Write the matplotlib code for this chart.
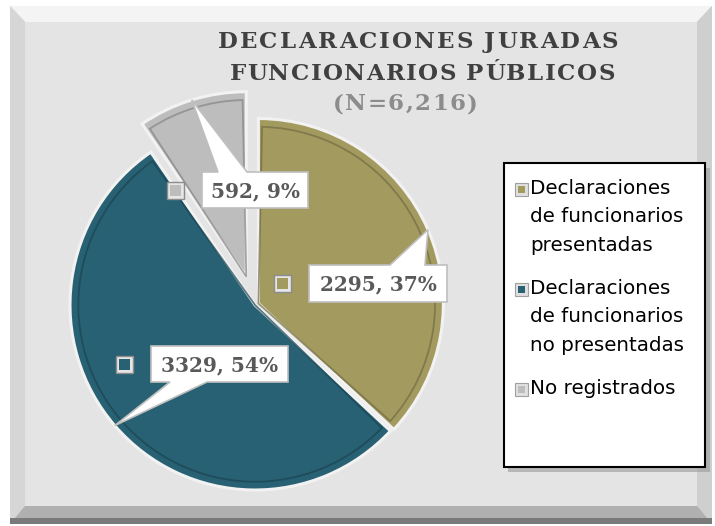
import matplotlib
matplotlib.use("Agg")
import matplotlib.pyplot as plt
from matplotlib.patches import Rectangle, Polygon, Wedge
from matplotlib.transforms import Affine2D
import numpy as np

# ---------------- data ----------------
categories = ["Declaraciones\nde funcionarios\npresentadas",
              "Declaraciones\nde funcionarios\nno presentadas",
              "No registrados"]
values = [2295, 3329, 592]
percents = [37, 54, 9]
colors = ["#a39a5f", "#276173", "#bdbdbd"]
explode = [0.02, 0.0, 0.16]
title_lines = ["DECLARACIONES JURADAS", "FUNCIONARIOS PÚBLICOS", "(N=6,216)"]

W, H = 715, 526
fig = plt.figure(figsize=(W / 100, H / 100), dpi=100, facecolor="white")
# transform: pixel coords with origin top-left
PX = Affine2D().scale(1 / W, -1 / H).translate(0, 1) + fig.transFigure


def rect(x0, y0, x1, y1, **kw):
    r = Rectangle((x0, y0), x1 - x0, y1 - y0, transform=PX, **kw)
    fig.patches.append(r)
    return r


def poly(pts, **kw):
    p = Polygon(pts, closed=True, transform=PX, **kw)
    fig.patches.append(p)
    return p


# ---------------- background frame ----------------
rect(10, 6, 712, 524, facecolor="#c8c8c8", edgecolor="none", zorder=0)
poly([(10, 6), (712, 6), (697, 22), (25, 22)], facecolor="#f4f4f4", edgecolor="none", zorder=0.1)
poly([(10, 6), (25, 22), (25, 506), (10, 524)], facecolor="#d6d6d6", edgecolor="none", zorder=0.1)
poly([(712, 6), (712, 524), (697, 506), (697, 22)], facecolor="#cfcfcf", edgecolor="none", zorder=0.1)
poly([(10, 524), (712, 524), (697, 506), (25, 506)], facecolor="#b0b0b0", edgecolor="none", zorder=0.1)
rect(10, 518, 712, 524, facecolor="#7a7a7a", edgecolor="none", zorder=0.15)
rect(25, 22, 697, 506, facecolor="#e4e4e4", edgecolor="none", zorder=0.2)

# ---------------- pie ----------------
CX, CY, R = 255, 305, 185
RA = 235
ax = fig.add_axes([(CX - RA) / W, 1 - (CY + RA) / H, 2 * RA / W, 2 * RA / H])
ax.set_zorder(1)
ax.axis("off")
ax.patch.set_alpha(0)

wedges, _ = ax.pie(values, colors=colors, startangle=90, counterclock=False,
                   explode=explode, radius=1,
                   wedgeprops=dict(edgecolor="#f2f2f2", linewidth=2.2))
ax.set_xlim(-RA / R, RA / R)
ax.set_ylim(-RA / R, RA / R)

# bevel-like inner outline
for w, c in zip(wedges, colors):
    rgb = np.array(matplotlib.colors.to_rgb(c))
    dark = tuple(rgb * 0.7)
    inner = Wedge(w.center, w.r * 0.955, w.theta1 + 1.2, w.theta2 - 1.2,
                  facecolor="none", edgecolor=dark, linewidth=1.3, alpha=0.7)
    ax.add_patch(inner)


def tip_px(w):
    mid = np.deg2rad((w.theta1 + w.theta2) / 2)
    x = w.center[0] + w.r * np.cos(mid)
    y = w.center[1] + w.r * np.sin(mid)
    d = ax.transData.transform((x, y))
    fx, fy = fig.transFigure.inverted().transform(d)
    return fx * W, (1 - fy) * H


# ---------------- data labels (callouts) ----------------
label_boxes = [
    ((309, 265, 447, 302), "top", (390, 425)),
    ((151, 346, 288, 382), "bottom", (170, 207)),
    ((202, 172, 308, 208), "top", (218, 247)),
]
for w, v, p, c, (box, side, base) in zip(wedges, values, percents, colors, label_boxes):
    x0, y0, x1, y1 = box
    tx, ty = tip_px(w)
    if side == "top":
        pts = [(x0, y0), (base[0], y0), (tx, ty), (base[1], y0), (x1, y0), (x1, y1), (x0, y1)]
    else:
        pts = [(x0, y0), (x1, y0), (x1, y1), (base[1], y1), (tx, ty), (base[0], y1), (x0, y1)]
    poly(pts, facecolor="white", edgecolor="#bfbfbf", linewidth=1.2, zorder=5)
    fig.text((x0 + x1) / 2 / W, 1 - ((y0 + y1) / 2 + 1) / H, f"{v}, {p}%",
             ha="center", va="center", fontsize=14.5, fontweight="bold",
             family="DejaVu Serif", color="#595959", zorder=6)
    mx1 = x0 - 18
    mx0 = mx1 - 17
    my = (y0 + y1) / 2
    rect(mx0, my - 8.5, mx1, my + 8.5, facecolor="#e6e6e6", edgecolor="#8c8c8c", linewidth=1, zorder=5)
    rect(mx0 + 3, my - 5.5, mx1 - 3, my + 5.5, facecolor=c, edgecolor="none", zorder=5.1)

# ---------------- legend ----------------
rect(508, 168, 710, 472, facecolor="#9a9a9a", edgecolor="none", alpha=0.6, zorder=3)
rect(504, 163, 705, 467, facecolor="white", edgecolor="black", linewidth=1.5, zorder=4)
entry_y = [190, 290, 390]
for lab, c, yy in zip(categories, colors, entry_y):
    rect(515, yy - 7, 528, yy + 6, facecolor="#e0e0e0", edgecolor="#a0a0a0", linewidth=0.8, zorder=5)
    rect(518, yy - 4, 525, yy + 3, facecolor=c, edgecolor="none", zorder=5.1)
    fig.text(530 / W, 1 - (yy - 11) / H, lab, ha="left", va="top", fontsize=14.3,
             family="DejaVu Sans", color="black", linespacing=1.62, zorder=6)

# ---------------- title with letter spacing ----------------
renderer = fig.canvas.get_renderer()


def tracked(text, cx, cy, target_w, size, color):
    widths = []
    for ch in text:
        if ch == " ":
            widths.append(size * 1.389 * 0.32)
            continue
        t = fig.text(0, 0, ch, fontsize=size, fontweight="bold", family="DejaVu Serif")
        bb = t.get_window_extent(renderer)
        widths.append(bb.width)
        t.remove()
    n = len(text)
    track = (target_w - sum(widths)) / (n - 1)
    x = cx - target_w / 2
    for ch, wd in zip(text, widths):
        if ch != " ":
            fig.text(x / W, 1 - cy / H, ch, fontsize=size, fontweight="bold",
                     family="DejaVu Serif", ha="left", va="center", color=color, zorder=7)
        x += wd + track


tracked(title_lines[0], 418, 42, 400, 16.5, "#404040")
tracked(title_lines[1], 422, 74, 385, 16.5, "#404040")
tracked(title_lines[2], 405, 104, 145, 16.5, "#8c8c8c")

fig.savefig("out.png", dpi=100, facecolor="white")
